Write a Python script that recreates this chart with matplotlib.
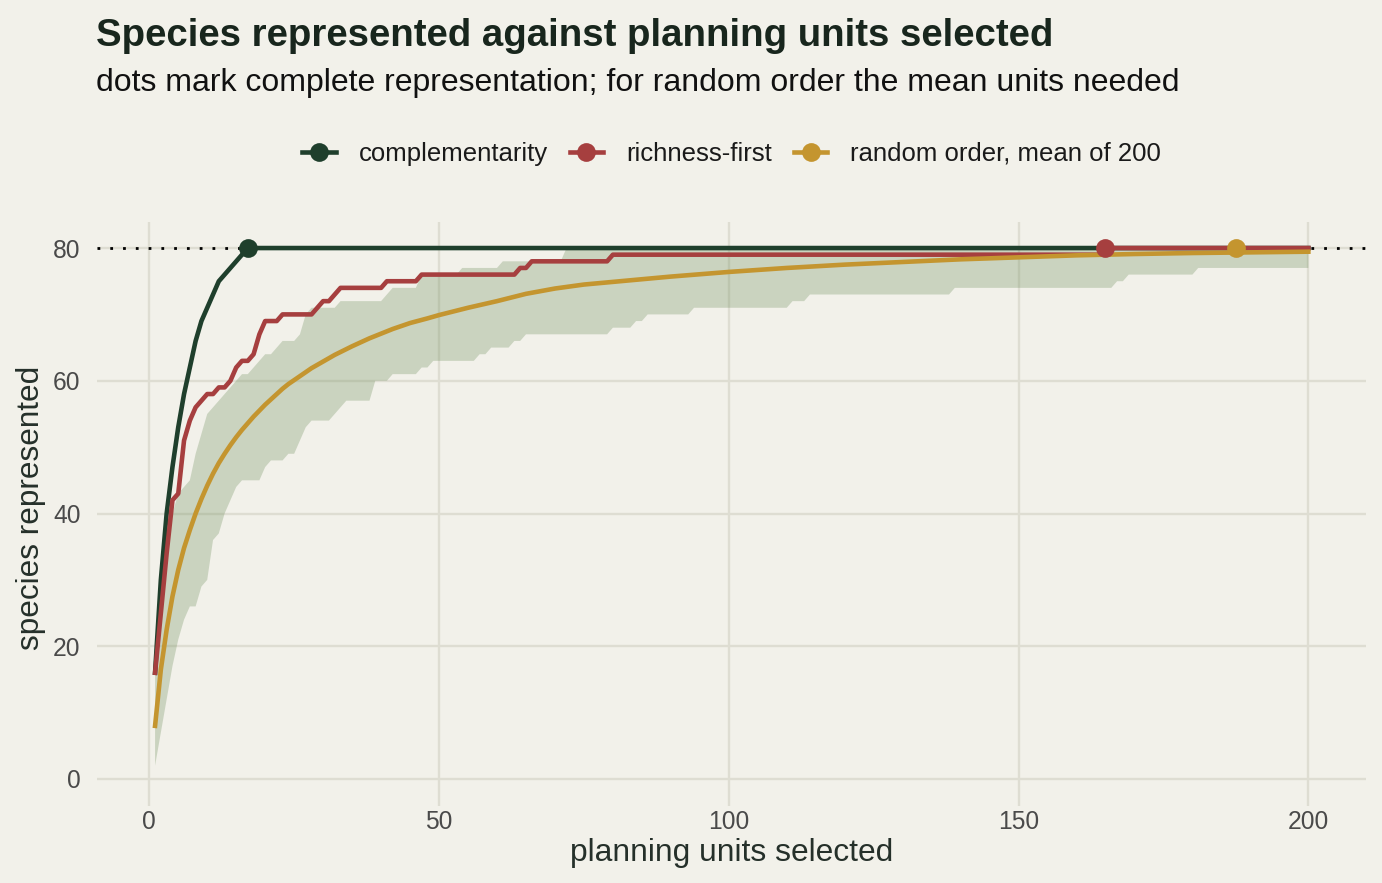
import numpy as np
import matplotlib
matplotlib.use("Agg")
import matplotlib.pyplot as plt
from matplotlib.lines import Line2D

plt.rcParams['font.family'] = ['Liberation Sans', 'DejaVu Sans']

# ---------------- data ----------------
# complementarity (greedy) curve, reaches all 80 species at unit 17
comp_x = [1, 2, 3, 4, 5, 6, 7, 8, 9, 10, 11, 12, 13, 14, 15, 16, 17, 200]
comp_y = [16, 30, 40, 47, 53, 58, 62, 66, 69, 71, 73, 75, 76, 77, 78, 79, 80, 80]

# richness-first curve (values at the units where it changes)
rich_x = [1, 2, 3, 4, 5, 6, 7, 8, 9, 10, 11, 12, 13, 14, 15, 16, 17, 18, 19, 20,
          22, 23, 28, 29, 30, 31, 32, 33, 40, 41, 46, 47, 63, 64, 65, 66, 79, 80,
          164, 165, 200]
rich_y = [16, 25, 34, 42, 43, 51, 54, 56, 57, 58, 58, 59, 59, 60, 62, 63, 63, 64, 67, 69,
          69, 70, 70, 71, 72, 72, 73, 74, 74, 75, 75, 76, 76, 77, 77, 78, 78, 79,
          79, 80, 80]

# random order, mean of 200 runs
rand_x = list(range(1, 31)) + [32, 35, 38, 40, 42, 45, 48, 50, 55, 60, 65, 70, 75, 80,
                               85, 90, 100, 110, 120, 130, 140, 150, 160, 170, 180, 190, 200]
rand_y = [8, 16.5, 22.5, 27.5, 31.5, 34.8, 37.5, 40.0, 42.2, 44.2, 46.0, 47.6, 49.0, 50.3,
          51.5, 52.6, 53.6, 54.6, 55.5, 56.4, 57.2, 58.0, 58.8, 59.5, 60.1, 60.7, 61.3,
          61.9, 62.4, 62.9,
          63.9, 65.2, 66.4, 67.1, 67.8, 68.7, 69.4, 69.9, 71.0, 72.0, 73.1, 73.9, 74.5,
          74.9, 75.3, 75.7, 76.4, 77.0, 77.5, 77.9, 78.3, 78.6, 78.9, 79.1, 79.25, 79.35,
          79.45]

# random-order 95% band (knots)
band_up_x = [1, 2, 3, 4, 5, 6, 7, 8, 9, 10, 11, 12, 13, 14, 15, 16, 17, 18, 19, 20, 21, 22, 23,
             25, 26, 27, 28, 32, 33, 40, 41, 42, 46, 47, 53, 54, 60, 61, 71, 72, 200]
band_up_y = [16, 25, 33, 40, 43, 44, 45, 49, 52, 55, 56, 57, 58, 59, 60, 61, 61, 62, 63, 64, 64, 65, 66,
             66, 67, 70, 71, 71, 72, 72, 73, 74, 74, 76, 76, 77, 77, 78, 78, 80, 80]
band_lo_x = [1, 2, 3, 4, 5, 6, 7, 8, 9, 10, 11, 12, 13, 14, 15, 16,
             19, 20, 21, 23, 24, 25, 26, 27, 28, 31, 32, 33, 34, 38, 39, 41, 42, 46, 47, 48,
             49, 56, 57, 58, 59, 62, 63, 64, 65, 79, 80, 83, 84, 85, 86, 93, 94, 110, 111,
             113, 114, 138, 139, 166, 167, 168, 169, 180, 181, 200]
band_lo_y = [2, 7, 12, 17, 21, 24, 26, 26, 29, 30, 36, 37, 40, 42, 44, 45,
             45, 47, 48, 48, 49, 49, 51, 53, 54, 54, 55, 56, 57, 57, 60, 60, 61, 61, 62, 62,
             63, 63, 64, 64, 65, 65, 66, 66, 67, 67, 68, 68, 69, 69, 70, 70, 71, 71, 72,
             72, 73, 73, 74, 74, 75, 75, 76, 76, 77, 77]

# units needed for complete representation
complete_x = [17, 165, 187.6]
total_species = 80

series_names = ["complementarity", "richness-first", "random order, mean of 200"]
x_ticks = [0, 50, 100, 150, 200]
y_ticks = [0, 20, 40, 60, 80]

# ---------------- style ----------------
bg = '#F2F1EA'
c_green = '#1F3F2C'
c_red = '#A63F3F'
c_gold = '#C4952F'
c_band = '#6F8F5D'
c_grid = '#DEDDD2'

W, H = 1382, 883
fig = plt.figure(figsize=(W / 100, H / 100), dpi=100)
fig.patch.set_facecolor(bg)

left, right, top, bottom = 97.4, 1366, 221.5, 805.5
ax = fig.add_axes([left / W, 1 - bottom / H, (right - left) / W, (bottom - top) / H])
ax.set_facecolor(bg)
ax.set_xlim(-8.95, 209.95)
ax.set_ylim(-4, 84)
for s in ax.spines.values():
    s.set_visible(False)
ax.set_xticks(x_ticks)
ax.set_yticks(y_ticks)
ax.grid(True, color=c_grid, lw=1.7, zorder=0)
ax.set_axisbelow(True)
ax.tick_params(axis='both', length=0, labelsize=17.7, labelcolor='#4A4A4A')
ax.tick_params(axis='x', pad=3)
ax.tick_params(axis='y', pad=12)

# band
poly_x = list(band_up_x) + list(band_lo_x[::-1])
poly_y = list(band_up_y) + list(band_lo_y[::-1])
ax.fill(poly_x, poly_y, color=c_band, alpha=0.3, lw=0, zorder=1)

# reference line
ax.axhline(total_species, color='black', lw=2.0, ls=(0, (1, 3.6)), zorder=1.5)

lw = 3.3
ax.plot(comp_x, comp_y, color=c_green, lw=lw, zorder=3, solid_joinstyle='round')
ax.plot(rich_x, rich_y, color=c_red, lw=lw, zorder=4, solid_joinstyle='round')
ax.plot(rand_x, rand_y, color=c_gold, lw=lw, zorder=5, solid_joinstyle='round')

ms = 13.5
for cx, col in zip(complete_x, [c_green, c_red, c_gold]):
    ax.plot([cx], [total_species], 'o', color=col, ms=ms, mew=0, zorder=6)

# legend
handles = [Line2D([0], [0], color=c, lw=lw, marker='o', ms=ms, mew=0)
           for c in [c_green, c_red, c_gold]]
fig.legend(handles, series_names, loc='center', ncol=3, frameon=False,
           bbox_to_anchor=((left + right) / 2 / W, 1 - 154 / H),
           fontsize=18.5, handlelength=1.3, handletextpad=0.9, columnspacing=0.85,
           labelcolor='#1A1A1A')

# titles
fig.text(96 / W, 1 - 46 / H, "Species represented against planning units selected",
         fontsize=27.6, fontweight='bold', color='#18261D', va='baseline', ha='left')
fig.text(96 / W, 1 - 91 / H,
         "dots mark complete representation; for random order the mean units needed",
         fontsize=23.0, color='#111111', va='baseline', ha='left')
fig.text((left + right) / 2 / W, 1 - 853 / H, "planning units selected",
         fontsize=22.9, color='#25302A', ha='center', va='center')
fig.text(31 / W, 1 - 508 / H, "species represented", rotation=90,
         fontsize=22.7, color='#25302A', ha='center', va='center')

fig.savefig('out.png', dpi=100, facecolor=bg)
